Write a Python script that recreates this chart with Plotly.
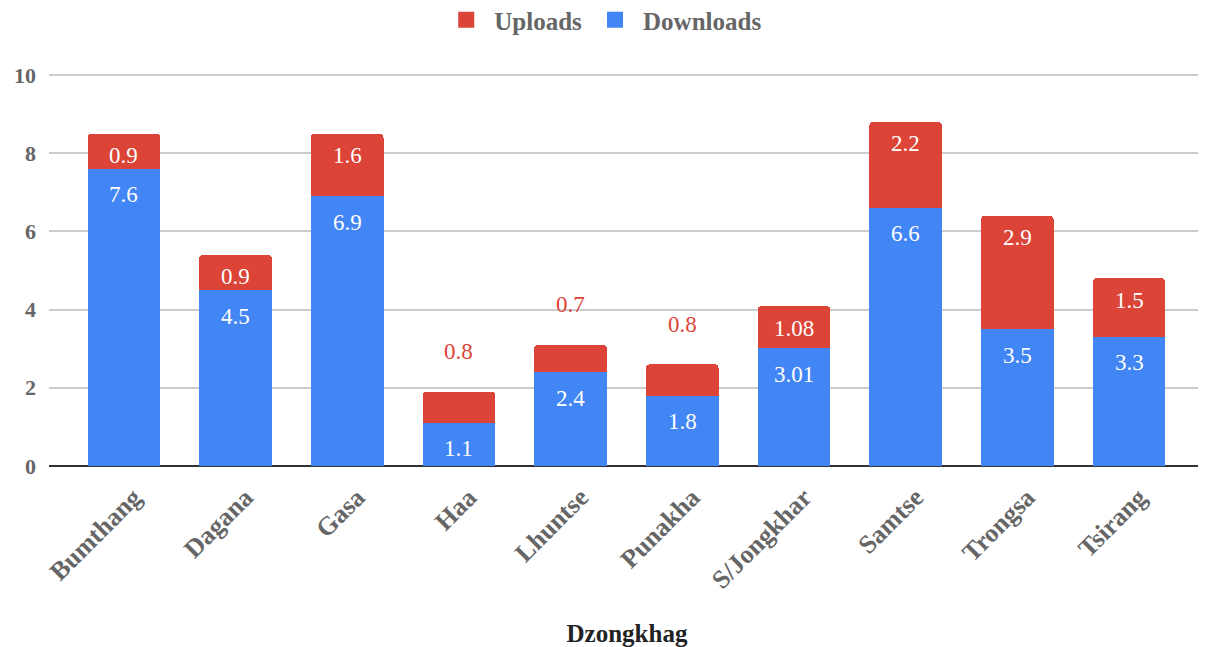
import plotly.graph_objects as go

categories = ["Bumthang", "Dagana", "Gasa", "Haa", "Lhuntse", "Punakha",
              "S/Jongkhar", "Samtse", "Trongsa", "Tsirang"]
downloads = [7.6, 4.5, 6.9, 1.1, 2.4, 1.8, 3.01, 6.6, 3.5, 3.3]
uploads = [0.9, 0.9, 1.6, 0.8, 0.7, 0.8, 1.08, 2.2, 2.9, 1.5]
download_labels = ["7.6", "4.5", "6.9", "1.1", "2.4", "1.8", "3.01", "6.6", "3.5", "3.3"]
upload_labels = ["0.9", "0.9", "1.6", "0.8", "0.7", "0.8", "1.08", "2.2", "2.9", "1.5"]
upload_outside = [False, False, False, True, True, True, False, False, False, False]
y_ticks = [0, 2, 4, 6, 8, 10]

BLUE = "#4285F4"
RED = "#DB4437"
SERIF = "Liberation Serif, Times New Roman, serif"

fig = go.Figure()
fig.add_trace(go.Bar(name="Downloads", x=categories, y=downloads,
                     marker=dict(color=BLUE, line=dict(width=0)),
                     showlegend=False, hoverinfo="x+y"))
fig.add_trace(go.Bar(name="Uploads", x=categories, y=uploads,
                     marker=dict(color=RED, line=dict(width=0)),
                     showlegend=False, hoverinfo="x+y"))
# legend entries (legend-only markers)
fig.add_trace(go.Scatter(name="Uploads", x=[None], y=[None], mode="markers",
                         marker=dict(symbol="square", size=16, color=RED)))
fig.add_trace(go.Scatter(name="Downloads", x=[None], y=[None], mode="markers",
                         marker=dict(symbol="square", size=16, color=BLUE)))

annotations = []
for c, d, u, dl, ul, out in zip(categories, downloads, uploads,
                                download_labels, upload_labels, upload_outside):
    annotations.append(dict(x=c, y=d, text=dl, showarrow=False, yshift=-26,
                            font=dict(family=SERIF, size=23, color="white")))
    if out:
        annotations.append(dict(x=c, y=d + u, text=ul, showarrow=False, yshift=40,
                                font=dict(family=SERIF, size=23, color=RED)))
    else:
        annotations.append(dict(x=c, y=d + u, text=ul, showarrow=False, yshift=-22,
                                font=dict(family=SERIF, size=23, color="white")))

# page body has an 8px margin: figure is sized/positioned to compensate
fig.update_layout(
    barmode="stack",
    barcornerradius=4,
    bargap=0.35,
    width=1198, height=639,
    margin=dict(l=41, r=1, t=63, b=181, autoexpand=False),
    paper_bgcolor="white",
    plot_bgcolor="white",
    font=dict(family=SERIF, color="#666666"),
    annotations=annotations,
    legend=dict(orientation="h", traceorder="normal",
                x=0.479, xanchor="center", xref="paper",
                y=1.129, yanchor="middle", yref="paper",
                font=dict(family=SERIF, size=25, color="#666666", weight="bold"),
                itemsizing="trace", itemwidth=46),
    xaxis=dict(
        range=[-0.67, 9.68],
        automargin=False,
        tickangle=-45,
        tickfont=dict(family=SERIF, size=26, color="#666666", weight="bold"),
        ticklabelshift=10,
        ticklabelstandoff=10,
        showgrid=False,
        showline=False,
        ticks="",
        title=dict(text="Dzongkhag", standoff=47,
                   font=dict(family=SERIF, size=25, color="#222222", weight="bold")),
    ),
    yaxis=dict(
        range=[0, 10.1],
        automargin=False,
        tickvals=y_ticks,
        tickfont=dict(family=SERIF, size=22, color="#666666", weight="bold"),
        gridcolor="#cccccc",
        gridwidth=2,
        zeroline=True,
        zerolinecolor="#333333",
        zerolinewidth=2,
        ticklabelstandoff=12,
        showline=False,
    ),
)

fig.write_html("out.html")
